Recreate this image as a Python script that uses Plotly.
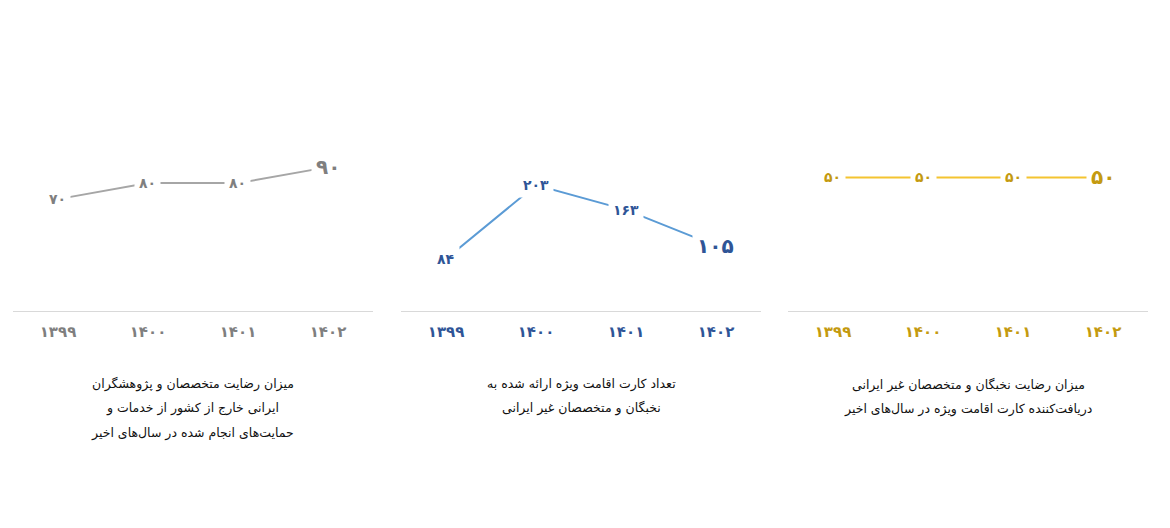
import plotly.graph_objects as go
from plotly.subplots import make_subplots

years = ['1399', '1400', '1401', '1402']
year_labels = ['۱۳۹۹', '۱۴۰۰', '۱۴۰۱', '۱۴۰۲']

satisfaction_iranian = [70, 80, 80, 90]
residence_cards = [84, 203, 163, 105]
satisfaction_foreign = [50, 50, 50, 50]

captions = [
    ['میزان رضایت متخصصان و پژوهشگران',
     'ایرانی خارج از کشور از خدمات و',
     'حمایت‌های انجام شده در سال‌های اخیر'],
    ['تعداد کارت اقامت ویژه ارائه شده به',
     'نخبگان و متخصصان غیر ایرانی'],
    ['میزان رضایت نخبگان و متخصصان غیر ایرانی',
     'دریافت‌کننده کارت اقامت ویژه در سال‌های اخیر'],
]

series = [satisfaction_iranian, residence_cards, satisfaction_foreign]
line_colors = ['#a6a6a6', '#5b9bd5', '#f4c430']
text_colors = ['#7f7f7f', '#2f5597', '#c49a10']
y_ranges = [[0, 132], [0, 340], [0, 79]]
domains = [[0.0043, 0.3163], [0.3406, 0.6525], [0.6759, 0.9879]]
caption_top = [-0.345, -0.345, -0.35]

FA_DIGITS = str.maketrans('0123456789', '۰۱۲۳۴۵۶۷۸۹')
FONT = 'DejaVu Sans'

fig = make_subplots(rows=1, cols=3)

annotations = []
for i, vals in enumerate(series):
    fig.add_trace(
        go.Scatter(x=years, y=vals, mode='lines',
                   line=dict(color=line_colors[i], width=2),
                   hoverinfo='skip', showlegend=False),
        row=1, col=i+1
    )
    ax = '' if i == 0 else str(i+1)
    for j, v in enumerate(vals):
        last = j == len(vals) - 1
        # category axes want the serial number of the category here
        annotations.append(dict(
            x=j, y=v, xref='x' + ax, yref='y' + ax,
            text='<b>' + str(v).translate(FA_DIGITS) + '</b>',
            showarrow=False, bgcolor='white', borderpad=4,
            font=dict(family=FONT, size=20 if last else 14, color=text_colors[i]),
        ))
    fig.update_xaxes(
        type='category', range=[-0.5, 3.5], domain=domains[i],
        tickvals=years, ticktext=year_labels,
        tickfont=dict(family=FONT, size=15, color=text_colors[i], weight='bold'),
        ticklabelstandoff=7,
        showline=True, linecolor='#d9d9d9', linewidth=1,
        showgrid=False, zeroline=False, ticks='',
        row=1, col=i+1
    )
    fig.update_yaxes(range=y_ranges[i], visible=False, showgrid=False,
                     row=1, col=i+1)
    for k, line in enumerate(captions[i]):
        annotations.append(dict(
            x=sum(domains[i]) / 2, y=caption_top[i] - k * 0.116,
            xref='paper', yref='paper',
            xanchor='center', yanchor='middle',
            text=line, showarrow=False,
            font=dict(family=FONT, size=12.5, color='#111111'),
        ))

fig.update_layout(
    width=1154, height=512,
    margin=dict(l=0, r=0, t=92, b=209),
    paper_bgcolor='white', plot_bgcolor='white',
    annotations=annotations,
)
fig.write_html('out.html')
